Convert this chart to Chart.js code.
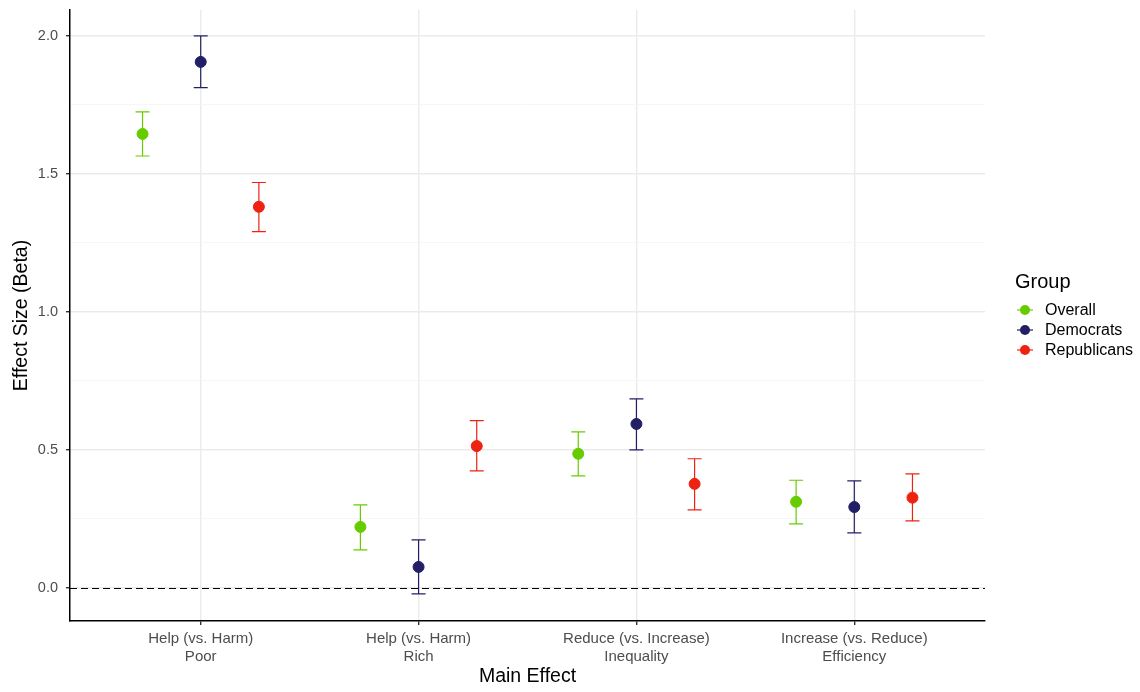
<!DOCTYPE html>
<html>
<head>
<meta charset="utf-8">
<script src="https://cdn.jsdelivr.net/npm/chart.js@4/dist/chart.umd.min.js"></script>
<style>
  html, body { margin: 0; padding: 0; background: #fff; }
  #wrap { width: 1140px; height: 692px; position: relative; }
</style>
</head>
<body>
<div id="wrap"><canvas id="c"></canvas></div>
<script>
// ---- data ----
const CATEGORIES = [
  ['Help (vs. Harm)', 'Poor'],
  ['Help (vs. Harm)', 'Rich'],
  ['Reduce (vs. Increase)', 'Inequality'],
  ['Increase (vs. Reduce)', 'Efficiency']
];
const GROUPS = ['Overall', 'Democrats', 'Republicans'];
const COLORS = ['#66CC00', '#221F66', '#EE2211'];

const overallBeta = [1.645, 0.221, 0.486, 0.312];
const overallLow  = [1.565, 0.138, 0.406, 0.232];
const overallHigh = [1.725, 0.301, 0.565, 0.390];

const demBeta = [1.906, 0.076, 0.594, 0.293];
const demLow  = [1.813, -0.022, 0.500, 0.199];
const demHigh = [2.000, 0.174, 0.685, 0.388];

const repBeta = [1.381, 0.514, 0.377, 0.327];
const repLow  = [1.291, 0.424, 0.283, 0.243];
const repHigh = [1.469, 0.606, 0.468, 0.413];

const Y_TICKS = [0, 0.5, 1.0, 1.5, 2.0];

const SERIES = [
  {beta: overallBeta, low: overallLow, high: overallHigh},
  {beta: demBeta, low: demLow, high: demHigh},
  {beta: repBeta, low: repLow, high: repHigh}
];
const DODGE = [-0.267, 0, 0.267];

const FONT = "'Liberation Sans', Arial, Helvetica, sans-serif";

const isMajor = v => Math.abs(v * 2 - Math.round(v * 2)) < 1e-6;

// error bars + zero line (under the points), legend on the right
const errorBars = {
  id: 'errorBars',
  beforeDatasetsDraw(chart) {
    const {ctx, scales: {x, y}} = chart;
    ctx.save();
    const y0 = Math.round(y.getPixelForValue(0)) + 0.5;
    ctx.strokeStyle = '#000';
    ctx.lineWidth = 1;
    ctx.setLineDash([7, 4]);
    ctx.beginPath();
    ctx.moveTo(chart.chartArea.left, y0);
    ctx.lineTo(chart.chartArea.right, y0);
    ctx.stroke();
    ctx.setLineDash([]);
    SERIES.forEach((s, i) => {
      ctx.strokeStyle = COLORS[i];
      ctx.lineWidth = 1.2;
      s.beta.forEach((_, j) => {
        const px = x.getPixelForValue(j + 1 + DODGE[i]);
        const y1 = y.getPixelForValue(s.low[j]);
        const y2 = y.getPixelForValue(s.high[j]);
        ctx.beginPath();
        ctx.moveTo(px, y1); ctx.lineTo(px, y2);
        ctx.moveTo(px - 7, y1); ctx.lineTo(px + 7, y1);
        ctx.moveTo(px - 7, y2); ctx.lineTo(px + 7, y2);
        ctx.stroke();
      });
    });
    ctx.restore();
  },
  afterDraw(chart) {
    const {ctx} = chart;
    ctx.save();
    ctx.fillStyle = '#000';
    ctx.textBaseline = 'middle';
    ctx.font = '20px ' + FONT;
    ctx.fillText('Group', 1015, 282);
    ctx.font = '16px ' + FONT;
    GROUPS.forEach((g, i) => {
      const cy = 310 + i * 20;
      ctx.strokeStyle = COLORS[i];
      ctx.lineWidth = 1.2;
      ctx.beginPath();
      ctx.moveTo(1017, cy); ctx.lineTo(1033, cy);
      ctx.stroke();
      ctx.fillStyle = COLORS[i];
      ctx.beginPath();
      ctx.arc(1025, cy, 5, 0, Math.PI * 2);
      ctx.fill();
      ctx.fillStyle = '#000';
      ctx.fillText(g, 1045, cy + 1);
    });
    ctx.restore();
  }
};

const datasets = SERIES.map((s, i) => ({
  label: GROUPS[i],
  data: s.beta.map((v, j) => ({x: j + 1 + DODGE[i], y: v})),
  backgroundColor: COLORS[i],
  borderColor: COLORS[i],
  pointRadius: 5.5,
  pointHoverRadius: 5.5,
  showLine: false
}));

new Chart(document.getElementById('c'), {
  type: 'scatter',
  data: {datasets},
  plugins: [errorBars],
  options: {
    responsive: true,
    maintainAspectRatio: false,
    animation: false,
    layout: {padding: {left: 0, right: 155, top: 10, bottom: 0}},
    plugins: {
      legend: {display: false},
      tooltip: {enabled: false}
    },
    scales: {
      x: {
        type: 'linear',
        min: 0.4,
        max: 4.6,
        afterBuildTicks: sc => { sc.ticks = CATEGORIES.map((_, i) => ({value: i + 1})); },
        afterFit: sc => { sc.height = 71; sc.paddingLeft = 0; sc.paddingRight = 0; },
        ticks: {
          callback: v => CATEGORIES[Math.round(v) - 1],
          color: '#4D4D4D',
          font: {size: 15, family: FONT, lineHeight: 1.25},
          padding: 4,
          maxRotation: 0,
          autoSkip: false
        },
        grid: {color: '#EBEBEB', lineWidth: 1.4, tickColor: '#333', tickLength: 4},
        border: {color: '#000', width: 1.5},
        title: {display: true, text: 'Main Effect', color: '#000', font: {size: 19.5, family: FONT}, padding: {top: 5}}
      },
      y: {
        min: -0.12,
        max: 2.094,
        afterBuildTicks: sc => {
          const t = [];
          for (let v = 0; v <= 2.0001; v += 0.25) t.push({value: Math.round(v * 100) / 100});
          sc.ticks = t;
        },
        afterFit: sc => { sc.width = 70; sc.paddingTop = 0; sc.paddingBottom = 0; },
        ticks: {
          callback: v => Y_TICKS.includes(v) ? v.toFixed(1) : '',
          color: '#4D4D4D',
          font: {size: 14.5, family: FONT},
          padding: 8
        },
        grid: {
          color: c => isMajor(c.tick.value) ? '#EBEBEB' : '#F4F4F4',
          lineWidth: c => isMajor(c.tick.value) ? 1.4 : 0.8,
          tickColor: c => isMajor(c.tick.value) ? '#333' : 'rgba(0,0,0,0)',
          tickLength: 4
        },
        border: {color: '#000', width: 1.5},
        title: {display: true, text: 'Effect Size (Beta)', color: '#000', font: {size: 19.5, family: FONT}, padding: {top: 10, bottom: 4}}
      }
    }
  }
});
</script>
</body>
</html>
